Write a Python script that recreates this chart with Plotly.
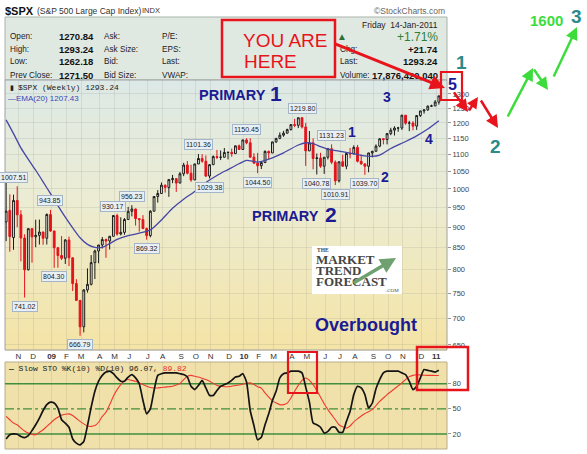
import numpy as np
import plotly.graph_objects as go

W, H = 587, 454
def px(x): return x / W
def py(y): return 1 - y / H

SANS = "Liberation Sans, Arial, sans-serif"
MONO = "Liberation Mono, DejaVu Sans Mono, monospace"
SERIF = "Liberation Serif, Times New Roman, serif"

# ---------------- data (weekly, week 0 = 17-Oct-2008, week 117 = 14-Jan-2011) ----------------
weeks = list(range(118))
opens = [912.8, 942.5, 874.3, 968.7, 931.0, 873.3, 800.0, 896.2, 876.1, 879.7,
         887.9, 872.8, 931.8, 890.4, 850.1, 832.0, 825.9, 868.6, 826.8, 770.1,
         735.1, 683.4, 756.6, 768.5, 815.9, 842.5, 856.6, 869.6, 866.2, 877.5,
         929.2, 882.9, 887.0, 919.1, 940.1, 946.2, 921.2, 918.9, 896.4, 879.1,
         940.4, 979.3, 987.5, 1010.5, 1004.1, 1026.1, 1028.9, 1016.4, 1042.7, 1068.3,
         1044.4, 1025.2, 1071.5, 1087.7, 1079.6, 1036.2, 1069.3, 1093.5, 1091.4, 1091.5,
         1106.0, 1106.4, 1102.5, 1126.5, 1115.1, 1145.0, 1136.0, 1091.8, 1073.9, 1066.2,
         1075.5, 1109.2, 1104.5, 1138.7, 1150.0, 1159.9, 1166.6, 1178.1, 1194.4, 1192.1,
         1217.3, 1186.7, 1110.9, 1135.7, 1087.7, 1089.4, 1064.9, 1091.6, 1117.5, 1076.8,
         1022.6, 1078.0, 1064.9, 1102.7, 1101.6, 1121.6, 1079.3, 1071.7, 1064.6, 1104.5,
         1109.6, 1125.6, 1148.7, 1146.2, 1165.2, 1176.2, 1183.1, 1183.3, 1225.9, 1199.2,
         1199.7, 1189.4, 1224.7, 1240.4, 1243.9, 1256.8, 1257.6, 1270.8]
highs = [1044.3, 985.4, 984.4, 1007.5, 942.9, 882.3, 896.3, 896.5, 918.6, 918.9,
         888.5, 934.7, 943.9, 891.0, 852.0, 877.9, 870.8, 876.6, 827.5, 779.4,
         736.0, 758.3, 803.0, 833.0, 845.6, 856.9, 875.6, 871.8, 878.0, 930.2,
         933.8, 924.6, 923.0, 951.7, 956.2, 947.0, 922.0, 930.2, 898.7, 943.0,
         979.4, 996.7, 1018.0, 1012.0, 1027.6, 1039.5, 1029.5, 1048.0, 1074.8, 1080.2,
         1069.0, 1071.6, 1101.4, 1101.0, 1097.0, 1071.0, 1097.0, 1113.7, 1112.0, 1119.7,
         1108.0, 1118.0, 1127.0, 1130.4, 1145.4, 1150.5, 1150.4, 1103.7, 1104.7, 1078.5,
         1112.4, 1112.0, 1139.0, 1150.3, 1169.0, 1174.0, 1181.0, 1194.9, 1213.9, 1217.5,
         1219.8, 1200.0, 1173.6, 1150.0, 1103.0, 1105.0, 1092.0, 1120.0, 1131.2, 1082.0,
         1078.5, 1099.0, 1103.0, 1120.0, 1128.0, 1129.2, 1100.0, 1072.0, 1105.0, 1111.0,
         1131.0, 1148.9, 1150.0, 1167.0, 1184.0, 1189.0, 1187.0, 1227.1, 1226.5, 1207.0,
         1206.0, 1225.0, 1240.5, 1246.0, 1259.0, 1262.0, 1278.2, 1293.2]
lows = [865.8, 840.9, 845.3, 899.7, 818.7, 741.0, 798.3, 815.7, 851.4, 857.7,
        857.1, 857.7, 888.3, 804.3, 804.5, 821.7, 812.9, 808.1, 754.3, 734.5,
        666.8, 672.9, 751.1, 766.0, 779.8, 814.5, 848.4, 826.8, 846.0, 877.0,
        878.9, 879.6, 881.0, 919.0, 927.0, 903.8, 888.9, 895.5, 869.3, 875.0,
        940.0, 963.0, 987.0, 990.0, 978.5, 1016.0, 992.0, 1016.0, 1036.0, 1041.0,
        1020.0, 1025.0, 1071.0, 1075.0, 1033.4, 1029.4, 1069.0, 1086.0, 1083.0, 1091.0,
        1085.0, 1093.0, 1102.0, 1114.0, 1114.0, 1131.4, 1090.2, 1071.6, 1044.5, 1056.5,
        1075.0, 1086.0, 1104.0, 1136.0, 1147.0, 1155.0, 1165.0, 1175.0, 1186.0, 1183.0,
        1181.6, 1065.8, 1110.0, 1055.9, 1040.8, 1060.0, 1042.2, 1085.0, 1071.0, 1010.9,
        1018.0, 1063.0, 1056.0, 1088.0, 1101.0, 1076.0, 1069.0, 1039.7, 1047.0, 1091.0,
        1109.0, 1122.0, 1131.0, 1131.0, 1160.0, 1159.0, 1171.0, 1177.0, 1194.0, 1173.0,
        1176.0, 1177.0, 1220.0, 1231.0, 1241.0, 1254.0, 1257.6, 1262.2]
closes = [940.6, 876.8, 968.8, 931.0, 873.3, 800.0, 896.2, 876.1, 879.7, 887.9,
          872.8, 931.8, 890.4, 850.1, 832.0, 825.9, 868.6, 826.8, 770.1, 735.1,
          683.4, 756.6, 768.5, 815.9, 842.5, 856.6, 869.6, 866.2, 877.5, 929.2,
          882.9, 887.0, 919.1, 940.1, 946.2, 921.2, 918.9, 896.4, 879.1, 940.4,
          979.3, 987.5, 1010.5, 1004.1, 1026.1, 1028.9, 1016.4, 1042.7, 1068.3, 1044.4,
          1025.2, 1071.5, 1087.7, 1079.6, 1036.2, 1069.3, 1093.5, 1091.4, 1091.5, 1106.0,
          1106.4, 1102.5, 1126.5, 1115.1, 1145.0, 1136.0, 1091.8, 1073.9, 1066.2, 1075.5,
          1109.2, 1104.5, 1138.7, 1150.0, 1159.9, 1166.6, 1178.1, 1194.4, 1192.1, 1217.3,
          1186.7, 1110.9, 1135.7, 1087.7, 1089.4, 1064.9, 1091.6, 1117.5, 1076.8, 1022.6,
          1078.0, 1064.9, 1102.7, 1101.6, 1121.6, 1079.3, 1071.7, 1064.6, 1104.5, 1109.6,
          1125.6, 1148.7, 1146.2, 1165.2, 1176.2, 1183.1, 1183.3, 1225.9, 1199.2, 1199.7,
          1189.4, 1224.7, 1240.4, 1243.9, 1256.8, 1257.6, 1271.5, 1293.2]

ema_weeks = [0, 2, 4, 6, 8, 10, 12, 14, 16, 18, 20, 22, 24, 26, 28, 30, 33, 36, 39, 42,
             45, 48, 51, 54, 57, 60, 63, 65, 68, 71, 75, 79, 81, 83, 85, 87, 90, 93, 96, 99,
             101, 104, 108, 111, 114, 117]
ema_vals = [1210, 1165, 1120, 1085, 1053, 1020, 987, 955, 925, 898, 874, 858, 851, 851, 860, 870, 879, 885, 893, 918,
            948, 972, 993, 1018, 1038, 1055, 1072, 1082, 1077, 1086, 1105, 1129, 1136, 1133, 1124, 1116, 1110, 1104, 1097, 1094,
            1098, 1118, 1140, 1158, 1180, 1207.43]

sto_k = [14, 19, 20, 19.6, 17, 15.6, 18, 24, 31, 39, 48, 55, 58, 57, 51, 37, 33, 28, 14, 9,
         7, 11, 30, 52, 71, 83, 90, 94, 95, 92, 87, 83, 83, 88, 91, 87, 80, 60, 44, 50,
         72, 90, 92, 93, 93, 93, 93, 92, 91, 88, 77, 73, 78, 84, 75, 66, 66, 72, 77, 79,
         81, 84, 88, 89, 92, 82, 48, 30, 13, 16, 31, 44, 60, 71, 87, 92, 93, 95, 95, 95,
         93, 76, 58, 33, 31, 28, 21, 23, 28, 28, 22, 22, 35, 47, 67, 77, 75, 67, 51, 57,
         74, 85, 93, 95, 95, 95, 95, 93, 91, 83, 73, 77, 87, 97, 96, 95, 94, 96.07]
sto_d = [41, 37, 33, 31, 27, 23.5, 21, 19.5, 19, 22, 25, 29, 33, 37, 40, 42.5, 43.5, 44, 42, 38.5,
         35, 32, 29.5, 29, 30, 34, 41, 46, 55, 65, 73, 79, 83.5, 85, 84, 83, 81, 79, 77, 75.5,
         75, 75, 75.5, 76, 76.5, 77, 78.5, 80.5, 85, 89, 90, 89, 88, 86.5, 85, 83, 80.5, 78, 77, 76.5,
         76.5, 77, 78, 78.5, 79.5, 80.5, 81, 79, 76.5, 74.8, 69, 64, 59.5, 57, 55, 55, 56.8, 63, 71, 78,
         84, 86.8, 84, 79, 72, 64, 56, 49, 43, 37, 31, 28.5, 27, 29.5, 34.5, 38, 41.5, 44.5, 46.5, 49,
         54, 59, 63, 67, 70.5, 74, 77.5, 81, 85, 88.5, 90, 90.8, 90.5, 90.2, 90, 90, 89.9, 89.82]

month_weeks = [3, 7, 12, 16, 20, 25, 29, 33, 38, 42, 47, 51, 55, 60, 64, 68, 72, 77, 81, 86,
               90, 94, 99, 103, 107, 112, 116]
month_text = ["N", "D", "<b>09</b>", "F", "M", "A", "M", "J", "J", "A", "S", "O", "N", "D",
              "<b>10</b>", "F", "M", "A", "M", "J", "J", "A", "S", "O", "N", "D", "<b>11</b>"]
price_ticks = [650, 700, 750, 800, 850, 900, 950, 1000, 1050, 1100, 1150, 1200, 1250, 1300]

peak_weeks = [3, 12, 29, 34, 52, 65, 80, 88, 13, 5, 20, 38, 55, 68, 84, 89, 97]
peak_vals = [1007.51, 943.85, 930.17, 956.23, 1101.36, 1150.45, 1219.80, 1131.23,
             804.30, 741.02, 666.79, 869.32, 1029.38, 1044.50, 1040.78, 1010.91, 1039.70]
peak_up = [True] * 8 + [False] * 9

# ---------------- figure ----------------
fig = go.Figure()
fig.add_trace(go.Candlestick(
    x=weeks, open=opens, high=highs, low=lows, close=closes,
    increasing=dict(line=dict(color="#1a1a1a", width=1), fillcolor="rgba(250,250,245,0.85)"),
    decreasing=dict(line=dict(color="#e3121a", width=1), fillcolor="#e3121a"),
    whiskerwidth=0, xaxis="x", yaxis="y", showlegend=False, hoverinfo="skip"))
fig.add_trace(go.Scatter(x=ema_weeks, y=ema_vals, mode="lines", xaxis="x", yaxis="y",
                         line=dict(color="#4646a6", width=1.3, shape="spline", smoothing=0.7),
                         showlegend=False, hoverinfo="skip"))
fig.add_trace(go.Scatter(x=weeks, y=sto_d, mode="lines", xaxis="x2", yaxis="y2",
                         line=dict(color="#f03a30", width=1.1, shape="spline", smoothing=0.6),
                         showlegend=False, hoverinfo="skip"))
fig.add_trace(go.Scatter(x=weeks, y=sto_k, mode="lines", xaxis="x2", yaxis="y2",
                         line=dict(color="#141414", width=1.7, shape="spline", smoothing=0.5),
                         showlegend=False, hoverinfo="skip"))

shapes = []
# header panel
shapes.append(dict(type="rect", xref="paper", yref="paper", x0=px(5), x1=px(447), y0=py(80), y1=py(17),
                   fillcolor="#e0e8e2", line=dict(color="#a9b3ab", width=1), layer="below"))
# main chart gradient background
stops = [(0.0, (221, 233, 231)), (0.45, (236, 236, 210)), (1.0, (244, 228, 166))]
def grad(t):
    for (t0, c0), (t1, c1) in zip(stops[:-1], stops[1:]):
        if t <= t1:
            f = (t - t0) / (t1 - t0)
            return "rgb(%d,%d,%d)" % tuple(round(a + (b - a) * f) for a, b in zip(c0, c1))
    return "rgb(%d,%d,%d)" % stops[-1][1]
nb, top, bot = 45, 80, 350
for i in range(nb):
    ya = top + (bot - top) * i / nb
    yb = top + (bot - top) * (i + 1) / nb + 0.6
    shapes.append(dict(type="rect", xref="paper", yref="paper", x0=px(5), x1=px(447), y0=py(yb), y1=py(ya),
                       fillcolor=grad((i + 0.5) / nb), line=dict(width=0), layer="below"))
shapes.append(dict(type="rect", xref="paper", yref="paper", x0=px(5), x1=px(447), y0=py(350), y1=py(80),
                   fillcolor="rgba(0,0,0,0)", line=dict(color="#a0a0a0", width=1), layer="below"))
# stochastic panel background
shapes.append(dict(type="rect", xref="paper", yref="paper", x0=px(5), x1=px(447), y0=py(449), y1=py(362),
                   fillcolor="#f0e0a9", line=dict(color="#b8ad8a", width=1), layer="below"))
for lvl, dash in [(80, "solid"), (20, "solid"), (50, "dashdot")]:
    shapes.append(dict(type="line", xref="x2 domain", yref="y2", x0=0, x1=1, y0=lvl, y1=lvl,
                       line=dict(color="#3f8f3f", width=1.4, dash=dash), layer="below"))
# logo box
shapes.append(dict(type="rect", xref="paper", yref="paper", x0=px(312), x1=px(402), y0=py(294), y1=py(246),
                   fillcolor="#ffffff", line=dict(width=0), layer="above"))
# red boxes
RED = "#e8141c"
shapes.append(dict(type="rect", xref="paper", yref="paper", x0=px(222), x1=px(335), y0=py(77), y1=py(20),
                   fillcolor="#e0e8e2", line=dict(color=RED, width=2.5), layer="above"))
shapes.append(dict(type="rect", xref="paper", yref="paper", x0=px(441), x1=px(462), y0=py(100), y1=py(72),
                   fillcolor="rgba(0,0,0,0)", line=dict(color=RED, width=2.2), layer="above"))
shapes.append(dict(type="rect", xref="paper", yref="paper", x0=px(288), x1=px(317), y0=py(393), y1=py(352),
                   fillcolor="rgba(0,0,0,0)", line=dict(color=RED, width=2.2), layer="above"))
shapes.append(dict(type="rect", xref="paper", yref="paper", x0=px(417), x1=px(468), y0=py(390), y1=py(347),
                   fillcolor="rgba(0,0,0,0)", line=dict(color=RED, width=2.5), layer="above"))

ann = []
def T(x, y, s, size=8, color="#222", bold=False, xanchor="left", family=SANS):
    ann.append(dict(x=px(x), y=py(y), xref="paper", yref="paper", text=("<b>%s</b>" % s) if bold else s,
                    showarrow=False, font=dict(size=size, color=color, family=family),
                    xanchor=xanchor, yanchor="middle"))
def A(x0, y0, x1, y1, color, width=2.5, head=2, size=1.0):
    ann.append(dict(x=px(x1), y=py(y1), xref="paper", yref="paper", ax=x0 - x1, ay=y0 - y1,
                    axref="pixel", ayref="pixel", text="", showarrow=True, arrowhead=head,
                    arrowsize=size, arrowwidth=width, arrowcolor=color, standoff=0, startstandoff=0))

# title
T(3, 11, "$SPX", 11, "#111", True)
T(35, 11, "(S&P 500 Large Cap Index)", 8.5, "#333")
T(140, 11, "INDX", 7.5, "#333")
T(447, 11, "©StockCharts.com", 8.5, "#666", xanchor="right")
# header stats
rows = [37, 50, 62, 75]
for y, a, v, b, c in zip(rows, ["Open:", "High:", "Low:", "Prev Close:"],
                         ["1270.84", "1293.24", "1262.18", "1271.50"],
                         ["Ask:", "Ask Size:", "Bid:", "Bid Size:"],
                         ["P/E:", "EPS:", "Last:", "VWAP:"]):
    T(8, y, a, 8.2, "#222")
    T(57, y, v, 9.5, "#111", True)
    T(102, y, b, 8.2, "#222")
    T(160, y, c, 8.2, "#222")
T(440, 25, "Friday  14-Jan-2011", 8.5, "#222", xanchor="right")
T(440, 37, "+1.71%", 12, "#2f7f34", xanchor="right")
T(342, 37, "▲", 10, "#2f6f34", xanchor="center")
T(338, 50, "Chg:", 8.2, "#222")
T(440, 50, "+21.74", 9.5, "#111", True, xanchor="right")
T(338, 62, "Last:", 8.2, "#222")
T(440, 62, "1293.24", 9.5, "#111", True, xanchor="right")
T(338, 75, "Volume:", 8.2, "#222")
T(440, 75, "17,876,420,040", 9.5, "#111", True, xanchor="right")
# YOU ARE HERE
T(241, 40, "YOU ARE", 19, RED)
T(242, 61, "HERE", 19, RED)
# chart legend
T(8, 87, "▮", 7, "#222")
T(16, 87, "$SPX (Weekly) 1293.24", 8, "#222", family=MONO)
T(6, 98, "—EMA(20) 1207.43", 8, "#3a46b8")
T(6, 368, "<b>—</b> Slow STO %K(10) %D(10) 96.07, <span style='color:#e8302a'>89.82</span>", 8, "#222",
  family=MONO)
# wave / primary labels
NAVY = "#1b1b93"
T(197, 95, "PRIMARY", 14.5, NAVY, True)
T(276, 93, "1", 21, NAVY, True, xanchor="center")
T(250, 216, "PRIMARY", 14.5, NAVY, True)
T(331, 214, "2", 21, NAVY, True, xanchor="center")
T(387, 97, "3", 14, NAVY, True, xanchor="center")
T(352, 132, "1", 14, NAVY, True, xanchor="center")
T(385, 177, "2", 14, NAVY, True, xanchor="center")
T(429, 139, "4", 14, NAVY, True, xanchor="center")
T(452, 84, "5", 16, NAVY, True, xanchor="center")
T(313, 325, "Overbought", 18, NAVY, True)
# logo
LOGO = "#454545"
T(315, 250, "THE", 5.5, LOGO, True, family=SERIF)
T(314, 259, "MARKET", 13, LOGO, True, family=SERIF)
T(314, 270, "TREND", 13, LOGO, True, family=SERIF)
T(314, 281, "FORECAST", 13, LOGO, True, family=SERIF)
T(384, 290, ".COM", 5, LOGO, family=SERIF)
A(352, 284, 396, 258, "#6fa070", width=3.5, head=2, size=0.9)
# outlook arrows & numbers
TEAL = "#2b8a8a"
GREEN = "#3ddc3d"
T(462, 63, "1", 19, TEAL, True, xanchor="center")
T(495, 147, "2", 19, TEAL, True, xanchor="center")
T(576, 16, "3", 19, TEAL, True, xanchor="center")
T(546, 20, "1600", 15, GREEN, True, xanchor="center")
A(333, 43, 445, 88, RED, width=3, head=2, size=1.0)
A(453, 91, 468, 112, RED, width=2.5, head=2, size=1.0)
A(468, 112, 478, 97, RED, width=2.5, head=2, size=0.9)
A(480, 99, 498, 128, RED, width=2.5, head=2, size=1.0)
A(507, 118, 533, 68, GREEN, width=2.5, head=2, size=1.0)
A(533, 68, 548, 90, GREEN, width=2.5, head=2, size=1.0)
A(553, 78, 577, 27, GREEN, width=2.5, head=2, size=1.0)

# price extreme labels
for w, v, up in zip(peak_weeks, peak_vals, peak_up):
    ann.append(dict(x=w, y=np.log10(v), xref="x", yref="y", text="%.2f" % v, showarrow=False,
                    yshift=9 if up else -9, xshift=-4 if w < 4 else 0,
                    font=dict(size=7, family=SANS, color="#222"),
                    bgcolor="#e8eff5", bordercolor="#a3b5c6", borderwidth=1, borderpad=1))

grid = "rgba(110,110,110,0.13)"
fig.update_layout(
    width=W, height=H, margin=dict(l=0, r=0, t=0, b=0),
    paper_bgcolor="#ffffff", plot_bgcolor="rgba(0,0,0,0)", showlegend=False,
    shapes=shapes, annotations=ann,
    xaxis=dict(domain=[px(5), px(447)], range=[-0.3, 119.2], anchor="y",
               tickvals=[m + 0.3 for m in month_weeks], ticktext=month_text,
               tickfont=dict(size=8, family=SANS, color="#333"), ticks="",
               showgrid=True, gridcolor=grid, zeroline=False, showline=False,
               rangeslider=dict(visible=False), fixedrange=True),
    yaxis=dict(domain=[py(350), py(80)], type="log",
               range=[np.log10(641), np.log10(1351)], side="right", anchor="x",
               tickvals=price_ticks, ticktext=[str(p) for p in price_ticks],
               tickfont=dict(size=7.5, family=SANS, color="#444"),
               ticks="outside", ticklen=3, tickcolor="#999",
               showgrid=True, gridcolor=grid, zeroline=False, showline=False),
    xaxis2=dict(domain=[px(5), px(447)], range=[-0.3, 119.2], anchor="y2",
                tickvals=[m + 0.3 for m in month_weeks], showticklabels=False, ticks="",
                showgrid=True, gridcolor="rgba(110,100,70,0.13)", zeroline=False, showline=False),
    yaxis2=dict(domain=[py(449), py(362)], range=[2, 106], side="right", anchor="x2",
                tickvals=[20, 50, 80], tickfont=dict(size=7.5, family=SANS, color="#444"),
                ticks="outside", ticklen=3, tickcolor="#999",
                showgrid=False, zeroline=False, showline=False),
)
fig.write_html("out.html", config={"displayModeBar": False},
               post_script="document.body.style.margin='0';document.body.style.overflow='hidden';")
